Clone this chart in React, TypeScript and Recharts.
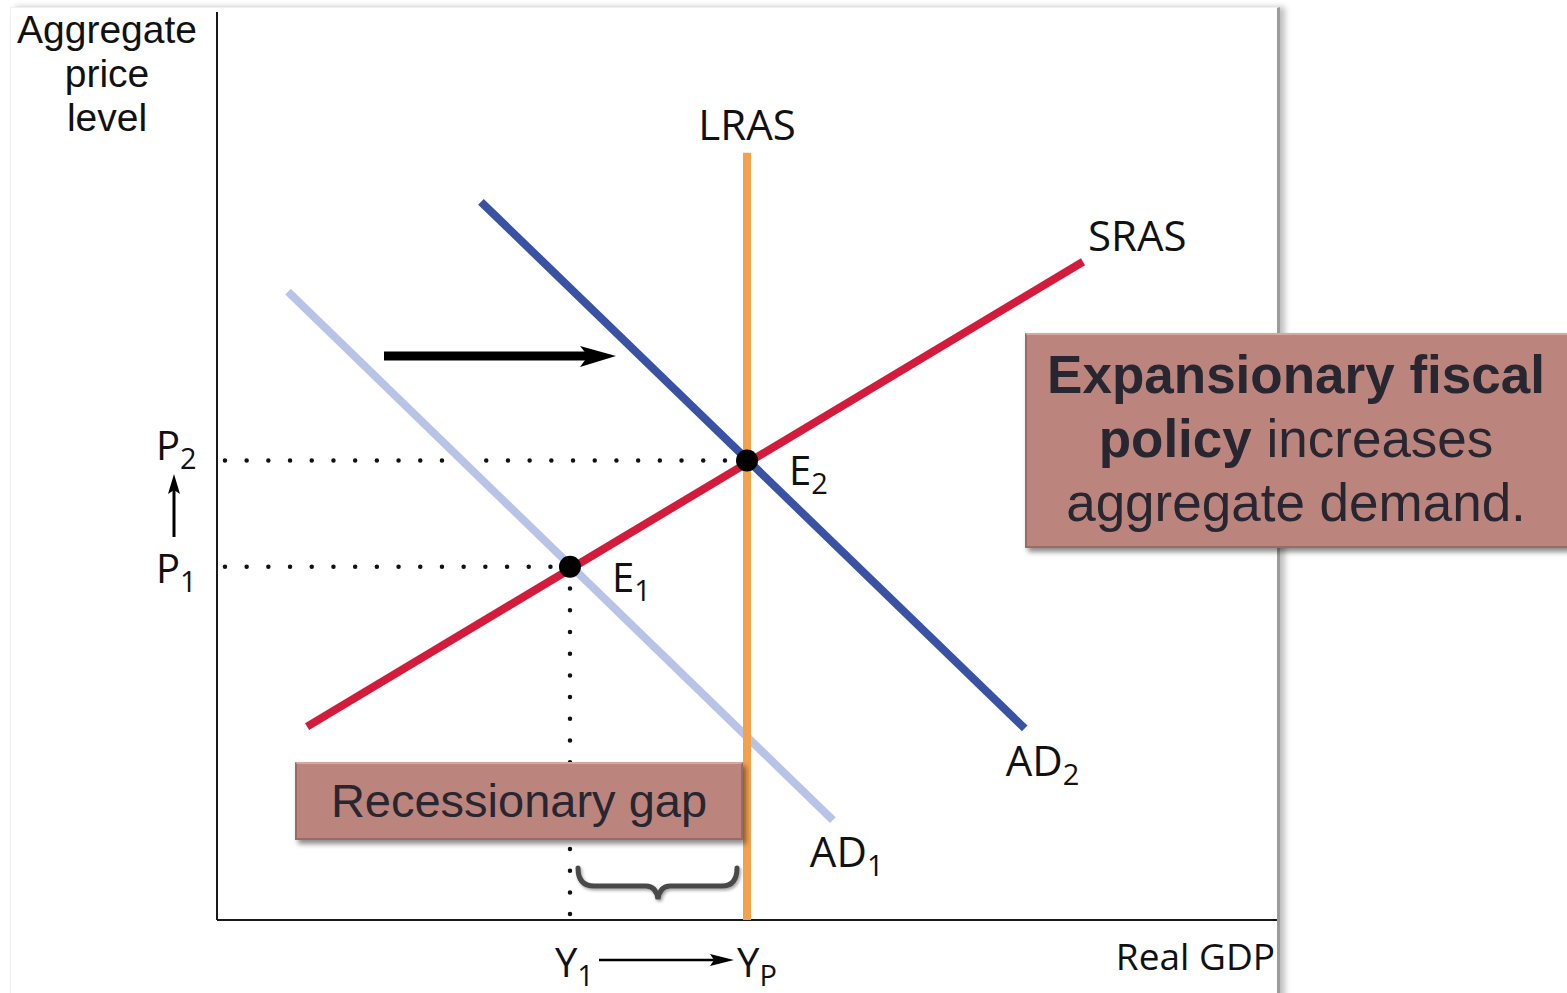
import React from "react";
import { LineChart, Line, XAxis, YAxis, ReferenceDot, ReferenceLine } from "recharts";

// curves, in chart units (output 0-100, price level 0-100)
const lras = [
  { q: 50, p: 0 },
  { q: 50, p: 84.5 },
];
const sras = [
  { q: 8.5, p: 21.3 },
  { q: 81.7, p: 72.5 },
];
const ad1 = [
  { q: 6.7, p: 69.2 },
  { q: 58.1, p: 11.0 },
];
const ad2 = [
  { q: 24.9, p: 79.1 },
  { q: 76.2, p: 21.1 },
];

// equilibrium points
const e1 = { q: 33.3, p: 38.9 };
const e2 = { q: 50, p: 50.6 };

// dotted guides
const p2GuideA = [
  { q: 0.75, p: 50.6 },
  { q: 21.3, p: 50.6 },
];
const p2GuideB = [
  { q: 25.4, p: 50.6 },
  { q: 50, p: 50.6 },
];
const p1Guide = [
  { q: 0.75, p: 38.9 },
  { q: 33.3, p: 38.9 },
];
const y1Guide = [
  { q: 33.3, p: 36.5 },
  { q: 33.3, p: 0 },
];

const W = 1567;
const H = 993;
const FONT = "'Open Sans', 'DejaVu Sans', sans-serif";
const BOX_FONT = "'Liberation Sans', Arial, sans-serif";

const RED = "#d31b3b";
const BLUE = "#3a52a3";
const LIGHT = "#b7c4e8";
const ORANGE = "#f4a14b";

const SubLabel = ({ x, y, main, sub, anchor = "start", size = 40 }: any) => (
  <text x={x} y={y} textAnchor={anchor} fontFamily={FONT} fontSize={size} fill="#111">
    {main}
    {sub && (
      <tspan fontSize={29} dy={9}>
        {sub}
      </tspan>
    )}
  </text>
);

const labelAt = (main: string, sub: string | undefined, dx: number, dy: number, anchor = "start", size = 40) =>
  (props: any) => <SubLabel x={props.cx + dx} y={props.cy + dy} main={main} sub={sub} anchor={anchor} size={size} />;

const dotted = {
  stroke: "#111",
  strokeWidth: 4.5,
  strokeDasharray: "0 21.7",
  strokeLinecap: "round" as const,
  dot: false,
  activeDot: false,
  isAnimationActive: false,
  type: "linear" as const,
  dataKey: "p",
};

const boxStyle: React.CSSProperties = {
  position: "absolute",
  background: "#bb857d",
  border: "2px solid #9a6b63",
  borderTopColor: "#d7a69d",
  boxShadow: "3px 4px 5px rgba(0,0,0,0.45)",
  color: "#272631",
  fontFamily: BOX_FONT,
  textAlign: "center",
  boxSizing: "border-box",
};

export default function App() {
  return (
    <div style={{ position: "absolute", left: 0, top: 0, width: W, height: H, overflow: "hidden", background: "#fff" }}>
      {/* slide card with shadowed right edge */}
      <div
        style={{
          position: "absolute",
          left: 10,
          top: 7,
          width: 1266,
          height: 1010,
          background: "#fff",
          borderRight: "3px solid #9c9c9c",
          borderTop: "1px solid #f0f0f0",
          borderLeft: "1px solid #f2f2f2",
          boxShadow: "5px 0 6px rgba(0,0,0,0.25)",
        }}
      />

      {/* y axis title (tight lines, so a font with compact metrics) */}
      <div
        style={{
          position: "absolute",
          left: 7,
          top: 8,
          width: 200,
          textAlign: "center",
          fontFamily: "'Liberation Sans', Arial, sans-serif",
          fontSize: 39,
          lineHeight: "44px",
          color: "#111",
        }}
      >
        Aggregate
        <br />
        price
        <br />
        level
      </div>

      <div style={{ position: "absolute", left: 0, top: 0 }}>
        <LineChart width={W} height={H} margin={{ top: 12, right: 290, bottom: 73, left: 217 }}>
          <XAxis type="number" dataKey="q" domain={[0, 100]} hide allowDataOverflow />
          <YAxis type="number" dataKey="p" domain={[0, 100]} hide allowDataOverflow />

          <ReferenceLine x={0} stroke="#1a1a1a" strokeWidth={2} />
          <ReferenceLine y={0} stroke="#1a1a1a" strokeWidth={2} />

          <Line {...dotted} data={p2GuideA} />
          <Line {...dotted} data={p2GuideB} />
          <Line {...dotted} data={p1Guide} />
          <Line {...dotted} data={y1Guide} />

          <Line data={ad1} dataKey="p" type="linear" stroke={LIGHT} strokeWidth={8} dot={false} activeDot={false} isAnimationActive={false} />
          <Line data={lras} dataKey="p" type="linear" stroke={ORANGE} strokeWidth={8} dot={false} activeDot={false} isAnimationActive={false} />
          <Line data={sras} dataKey="p" type="linear" stroke={RED} strokeWidth={8} dot={false} activeDot={false} isAnimationActive={false} />
          <Line data={ad2} dataKey="p" type="linear" stroke={BLUE} strokeWidth={8} dot={false} activeDot={false} isAnimationActive={false} />

          <ReferenceDot x={e1.q} y={e1.p} r={11} fill="#000" stroke="none" />
          <ReferenceDot x={e2.q} y={e2.p} r={11} fill="#000" stroke="none" />

          {/* curve and point labels */}
          <ReferenceDot x={lras[1].q} y={lras[1].p} r={0} ifOverflow="visible" shape={labelAt("LRAS", undefined, 0, -13, "middle", 42)} />
          <ReferenceDot x={sras[1].q} y={sras[1].p} r={0} ifOverflow="visible" shape={labelAt("SRAS", undefined, 5, -11, "start", 42)} />
          <ReferenceDot x={ad2[1].q} y={ad2[1].p} r={0} ifOverflow="visible" shape={labelAt("AD", "2", -19, 48, "start", 42)} />
          <ReferenceDot x={ad1[1].q} y={ad1[1].p} r={0} ifOverflow="visible" shape={labelAt("AD", "1", -23, 47, "start", 42)} />
          <ReferenceDot x={e2.q} y={e2.p} r={0} ifOverflow="visible" shape={labelAt("E", "2", 42, 24)} />
          <ReferenceDot x={e1.q} y={e1.p} r={0} ifOverflow="visible" shape={labelAt("E", "1", 42, 25)} />
          <ReferenceDot x={0} y={e2.p} r={0} ifOverflow="visible" shape={labelAt("P", "2", -61, -1)} />
          <ReferenceDot x={0} y={e1.p} r={0} ifOverflow="visible" shape={labelAt("P", "1", -61, 16)} />
          <ReferenceDot x={e1.q} y={0} r={0} ifOverflow="visible" shape={labelAt("Y", "1", -15, 57)} />
          <ReferenceDot x={e2.q} y={0} r={0} ifOverflow="visible" shape={labelAt("Y", "P", -10, 57)} />
        </LineChart>
      </div>

      {/* arrows, brace and x axis title */}
      <svg width={W} height={H} style={{ position: "absolute", left: 0, top: 0, pointerEvents: "none" }}>
        <defs>
          <filter id="soft" x="-10%" y="-30%" width="130%" height="180%">
            <feDropShadow dx="1.5" dy="2" stdDeviation="1.5" floodColor="#000" floodOpacity="0.35" />
          </filter>
        </defs>
        <text x={1275} y={970} textAnchor="end" fontFamily={FONT} fontSize={37} fill="#111">
          Real GDP
        </text>

        {/* demand shift arrow */}
        <line x1={384} y1={356} x2={588} y2={356} stroke="#000" strokeWidth={9} />
        <polygon points="580,346 616,356 580,367 588,356" fill="#000" />

        {/* P1 -> P2 */}
        <line x1={174} y1={537} x2={174} y2={488} stroke="#000" strokeWidth={3} />
        <polygon points="168,494 174,474 180,494 174,490" fill="#000" />

        {/* Y1 -> YP */}
        <line x1={599} y1={960} x2={716} y2={960} stroke="#000" strokeWidth={2.5} />
        <polygon points="710,954 734,960 710,966 714,960" fill="#000" />

        {/* brace under the gap */}
        <path
          d="M578,868 Q578,886 594,886 L646,886 Q656,886 658,899 Q660,886 670,886 L722,886 Q737,886 737,868"
          fill="none"
          stroke="#4a4a4a"
          strokeWidth={5}
          strokeLinecap="round"
          filter="url(#soft)"
        />
      </svg>

      <div
        style={{
          ...boxStyle,
          left: 295,
          top: 762,
          width: 448,
          height: 78,
          fontSize: 47,
          lineHeight: "74px",
        }}
      >
        Recessionary gap
      </div>

      <div
        style={{
          ...boxStyle,
          left: 1025,
          top: 333,
          width: 546,
          height: 215,
          paddingTop: 8,
          paddingRight: 4,
          fontSize: 53,
          lineHeight: "64px",
        }}
      >
        <b>Expansionary fiscal</b>
        <br />
        <b>policy</b> increases
        <br />
        aggregate demand.
      </div>
    </div>
  );
}
